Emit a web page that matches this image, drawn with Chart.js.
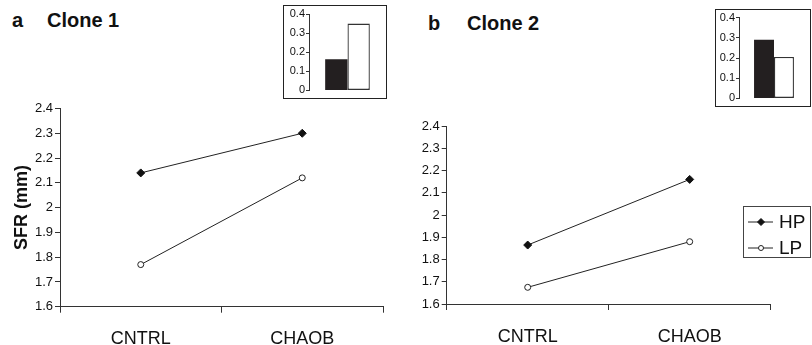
<!DOCTYPE html>
<html>
<head>
<meta charset="UTF-8">
<title>SFR clones</title>
<script src="https://cdn.jsdelivr.net/npm/chart.js"></script>
<style>
  body { margin: 0; background: #fff; width: 812px; height: 345px; position: relative; overflow: hidden; font-family: Arial, "Liberation Sans", sans-serif; }
  .box { position: absolute; }
  .ttl { position: absolute; font-weight: bold; font-size: 20px; color: #111; line-height: 1; }
  .inset { position: absolute; border: 1px solid #222; background: #fff; box-sizing: border-box; z-index: 2; }
</style>
</head>
<body>
  <div class="ttl" style="left:12px;top:10px">a</div>
  <div class="ttl" style="left:47px;top:10px">Clone 1</div>
  <div class="ttl" style="left:428px;top:13px">b</div>
  <div class="ttl" style="left:467px;top:13px">Clone 2</div>

  <div class="box" style="left:0;top:95px;width:400px;height:250px"><canvas id="c1"></canvas></div>
  <div class="box" style="left:400px;top:100px;width:412px;height:245px"><canvas id="c2"></canvas></div>
  <div class="inset" style="left:283px;top:5px;width:104px;height:94px"><canvas id="i1"></canvas></div>
  <div class="inset" style="left:715px;top:9px;width:96px;height:98px"><canvas id="i2"></canvas></div>

<script>
  const categories = ['CNTRL', 'CHAOB'];
  const seriesNames = ['HP', 'LP'];
  const clone1HP = [2.14, 2.30];
  const clone1LP = [1.77, 2.12];
  const clone2HP = [1.865, 2.16];
  const clone2LP = [1.675, 1.88];
  const yMin = 1.6, yMax = 2.4, yStep = 0.1;
  const insetCats = [''];
  const inset1HP = [0.164];
  const inset1LP = [0.351];
  const inset2HP = [0.29];
  const inset2LP = [0.205];
  const insetMax = 0.4, insetStep = 0.1;

  const fontFam = 'Arial, "Liberation Sans", sans-serif';
  const fmt = v => String(+Number(v).toFixed(1));

  // legend drawn as a small box with a line+marker sample
  const lineLegend = {
    id: 'lineLegend',
    afterDraw(chart, args, opts) {
      if (!opts.show) return;
      const ctx = chart.ctx;
      ctx.save();
      ctx.strokeStyle = '#444';
      ctx.lineWidth = 1;
      ctx.fillStyle = '#fff';
      ctx.fillRect(opts.x, opts.y, opts.w, opts.h);
      ctx.strokeRect(opts.x + 0.5, opts.y + 0.5, opts.w - 1, opts.h - 1);
      chart.data.datasets.forEach((ds, i) => {
        const yy = opts.y + opts.rowY[i];
        ctx.strokeStyle = '#222';
        ctx.lineWidth = 1;
        ctx.beginPath();
        ctx.moveTo(opts.x + 5, yy);
        ctx.lineTo(opts.x + 30, yy);
        ctx.stroke();
        ctx.fillStyle = ds.pointBackgroundColor;
        ctx.strokeStyle = ds.pointBorderColor;
        Chart.helpers.drawPoint(ctx, {
          pointStyle: ds.pointStyle, radius: ds.pointRadius - 0.5, borderWidth: 1
        }, opts.x + 18, yy);
        ctx.fillStyle = '#111';
        ctx.font = '19px ' + fontFam;
        ctx.textBaseline = 'middle';
        ctx.fillText(ds.label, opts.x + 36, yy + 1);
      });
      ctx.restore();
    }
  };

  function pointSets(hp, lp) {
    return [
      { label: seriesNames[0], data: hp, borderColor: '#222', borderWidth: 1,
        pointStyle: 'rectRot', pointRadius: 4, pointBackgroundColor: '#111', pointBorderColor: '#111', fill: false },
      { label: seriesNames[1], data: lp, borderColor: '#222', borderWidth: 1,
        pointStyle: 'circle', pointRadius: 3, pointBackgroundColor: '#fff', pointBorderColor: '#222', fill: false }
    ];
  }

  function lineChart(id, hp, lp, geo) {
    return new Chart(document.getElementById(id), {
      type: 'line',
      data: { labels: categories, datasets: pointSets(hp, lp) },
      plugins: [lineLegend],
      options: {
        responsive: true, maintainAspectRatio: false, animation: false,
        layout: { padding: { top: geo.top, right: geo.right, left: 0, bottom: 0 } },
        plugins: {
          legend: { display: false }, tooltip: { enabled: false },
          lineLegend: geo.legend || { show: false }
        },
        scales: {
          x: {
            offset: true,
            grid: { offset: true, drawOnChartArea: false, drawTicks: true, tickLength: 6, color: '#333' },
            border: { color: '#333', width: 1 },
            ticks: { color: '#111', font: { size: 18, family: fontFam }, padding: 16 },
            afterFit: s => { s.height = geo.xh; }
          },
          y: {
            min: yMin, max: yMax,
            grid: { drawOnChartArea: false, drawTicks: true, tickLength: 5, color: '#333' },
            border: { color: '#333', width: 1 },
            ticks: { stepSize: yStep, color: '#111', font: { size: 13, family: fontFam }, padding: 2, callback: fmt },
            title: geo.ytitle ? { display: true, text: geo.ytitle, color: '#111',
              font: { size: 18, weight: 'bold', family: fontFam }, padding: { top: 11, bottom: 0 } } : { display: false },
            afterFit: s => { s.width = geo.yw; }
          }
        }
      }
    });
  }

  function insetChart(id, hp, lp, geo) {
    return new Chart(document.getElementById(id), {
      type: 'bar',
      data: {
        labels: insetCats,
        datasets: [
          { label: seriesNames[0], data: hp, backgroundColor: '#231f20', borderColor: '#231f20', borderWidth: 0,
            categoryPercentage: geo.cp, barPercentage: 1 },
          { label: seriesNames[1], data: lp, backgroundColor: '#fff', borderColor: '#333', borderWidth: 1.3,
            borderSkipped: false, categoryPercentage: geo.cp, barPercentage: 1 }
        ]
      },
      options: {
        responsive: true, maintainAspectRatio: false, animation: false,
        layout: { padding: { top: geo.top, right: geo.right, left: 0, bottom: geo.bottom } },
        plugins: { legend: { display: false }, tooltip: { enabled: false } },
        scales: {
          x: { display: false },
          y: {
            min: 0, max: insetMax,
            grid: { drawOnChartArea: false, drawTicks: true, tickLength: 3, color: '#333' },
            border: { color: '#333', width: 1 },
            ticks: { stepSize: insetStep, color: '#111', font: { size: 11, family: fontFam }, padding: 1, callback: fmt },
            afterFit: s => { s.width = geo.yw; }
          }
        }
      }
    });
  }

  lineChart('c1', clone1HP, clone1LP, { top: 13.5, right: 17, xh: 38.3, yw: 60, ytitle: 'SFR (mm)' });
  lineChart('c2', clone2HP, clone2LP, { top: 26, right: 41.3, xh: 41, yw: 46.7,
    legend: { show: true, x: 343, y: 106, w: 68, h: 52, rowY: [16, 42] } });
  insetChart('i1', inset1HP, inset1LP, { top: 8.3, right: 0, bottom: 6.3, yw: 25, cp: 0.58 });
  insetChart('i2', inset2HP, inset2LP, { top: 5, right: 1, bottom: 6, yw: 23, cp: 0.57 });
</script>
</body>
</html>
